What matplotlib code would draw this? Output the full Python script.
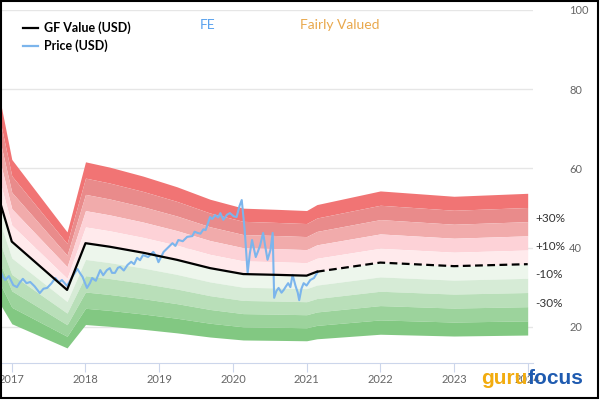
import numpy as np
import matplotlib
matplotlib.use("Agg")
import matplotlib.pyplot as plt
from matplotlib.patches import Rectangle
from matplotlib.lines import Line2D

# GF Value (USD), decimal years
gf_years = [2016.84, 2017.00, 2017.75, 2018.00, 2018.33, 2018.78, 2019.24, 2019.69,
            2020.14, 2020.60, 2021.00, 2021.14, 2022.00, 2023.00, 2024.00]
gf_values = [51.5, 41.5, 29.3, 41.1, 40.2, 38.7, 36.9, 34.8,
             33.3, 33.1, 32.9, 33.9, 36.2, 35.3, 35.8]
gf_last_actual = 2021.14

# Price (USD)
price_years = [2016.84, 2016.88, 2016.91, 2016.96, 2017.02, 2017.07, 2017.11, 2017.15,
               2017.20, 2017.25, 2017.31, 2017.38, 2017.43, 2017.48, 2017.54, 2017.59,
               2017.64, 2017.68, 2017.75, 2017.82, 2017.89, 2017.93, 2017.96, 2018.02,
               2018.06, 2018.09, 2018.14, 2018.20, 2018.24, 2018.29, 2018.33, 2018.36,
               2018.40, 2018.44, 2018.47, 2018.52, 2018.57, 2018.62, 2018.66, 2018.70,
               2018.74, 2018.78, 2018.85, 2018.92, 2018.96, 2018.99, 2019.06, 2019.12,
               2019.18, 2019.22, 2019.26, 2019.32, 2019.38, 2019.45, 2019.48, 2019.52,
               2019.56, 2019.60, 2019.63, 2019.69, 2019.72, 2019.76, 2019.80, 2019.83,
               2019.87, 2019.92, 2019.96, 2020.01, 2020.05, 2020.09, 2020.12, 2020.16,
               2020.20, 2020.23, 2020.26, 2020.31, 2020.34, 2020.37, 2020.41, 2020.44,
               2020.47, 2020.51, 2020.54, 2020.56, 2020.59, 2020.62, 2020.66, 2020.69,
               2020.72, 2020.75, 2020.78, 2020.81, 2020.85, 2020.88, 2020.90, 2020.93,
               2020.96, 2021.00, 2021.05, 2021.10, 2021.15]
price_values = [34.3, 32.6, 31.8, 32.8, 30.5, 30.0, 31.2, 32.1,
                31.0, 31.3, 30.2, 28.5, 29.6, 29.8, 31.0, 32.3,
                31.2, 31.8, 30.3, 32.6, 34.6, 33.4, 32.6, 29.8,
                31.0, 32.3, 31.6, 34.3, 33.0, 34.3, 34.8, 33.6,
                33.6, 34.9, 35.1, 34.2, 35.6, 36.4, 35.8, 37.4,
                36.8, 38.1, 37.6, 38.9, 37.8, 36.3, 38.9, 40.0,
                41.1, 40.4, 41.9, 41.6, 42.7, 42.9, 44.0, 43.7,
                43.5, 44.6, 44.4, 47.7, 47.2, 48.2, 47.6, 48.7,
                47.0, 48.3, 48.7, 47.9, 47.7, 50.5, 52.0, 44.4,
                33.6, 38.5, 41.9, 37.6, 39.0, 40.6, 43.7, 40.2,
                36.9, 39.4, 43.7, 27.3, 29.0, 29.8, 28.6, 29.3,
                30.2, 31.0, 30.0, 33.1, 30.3, 28.6, 26.7, 29.6,
                31.0, 30.4, 31.8, 32.3, 33.8]

# valuation bands (multiples of GF Value) and colours, top to bottom
band_edges = [1.5, 1.4, 1.3, 1.2, 1.1, 1.0, 0.9, 0.8, 0.7, 0.6, 0.5]
band_colors = ["#f17474", "#e98b8b", "#f1abab", "#fdd2d7", "#ffeaec",
               "#edf6ec", "#d6ebd6", "#b9dfb9", "#9cd39c", "#82c882"]
pct_labels = ["+30%", "+10%", "-10%", "-30%"]
pct_levels = [1.3, 1.1, 0.9, 0.7]

year_ticks = [2017, 2018, 2019, 2020, 2021, 2022, 2023, 2024]
value_ticks = [20, 40, 60, 80, 100]

plt.rcParams['font.family'] = ['Lato', 'DejaVu Sans']

fig = plt.figure(figsize=(6, 4.2), dpi=100)
ax = fig.add_axes([0, 1 - 363.3 / 420, 533 / 600, 353.3 / 420])

gx = np.array(gf_years)
gy = np.array(gf_values)
for i, col in enumerate(band_colors):
    ax.fill_between(gx, gy * band_edges[i + 1], gy * band_edges[i],
                    color=col, lw=0, zorder=2)

solid = gx <= gf_last_actual + 1e-9
dashed = gx >= gf_last_actual - 1e-9
ax.plot(gx[solid], gy[solid], color="black", lw=1.6, zorder=4)
ax.plot(gx[dashed], gy[dashed], color="black", lw=1.6, ls=(0, (3.5, 2)), zorder=4)
ax.plot(price_years, price_values, color="#7cb5ec", lw=1.5, zorder=3)

ax.set_xlim(2016.84, 2016.84 + 533 / 73.7)
ax.set_ylim(100 - 353.3 / 3.959, 100)

ax.set_xticks(year_ticks)
ax.set_xticklabels([str(y) for y in year_ticks])
ax.set_yticks(value_ticks)
ax.yaxis.tick_right()
ax.grid(axis='y', color="#e6e6e6", lw=1, zorder=0)
ax.set_axisbelow(True)
ax.tick_params(axis='x', colors="#ccd6eb", labelcolor="#666666", length=6.5, pad=1.5, labelsize=8)
ax.tick_params(axis='y', length=0, pad=26, labelcolor="#666666", labelsize=8)
for s in ['top', 'left', 'right']:
    ax.spines[s].set_visible(False)
ax.spines['bottom'].set_color("#ccd6eb")

for lab, lev in zip(pct_labels, pct_levels):
    ax.annotate(lab, xy=(1, gf_values[-1] * lev), xycoords=('axes fraction', 'data'),
                xytext=(1.5, 2.5), textcoords='offset points', va='center', ha='left',
                fontsize=8.5, color="#333333", annotation_clip=False)

# legend
fig.add_artist(Line2D([23 / 600, 38 / 600], [1 - 28 / 420] * 2, color="black", lw=1.6))
fig.add_artist(Line2D([23 / 600, 38 / 600], [1 - 46 / 420] * 2, color="#7cb5ec", lw=1.6))
fig.text(44 / 600, 1 - 28 / 420, "GF Value (USD)", fontsize=9, fontweight='bold',
         va='center', ha='left', color="black")
fig.text(44 / 600, 1 - 46 / 420, "Price (USD)", fontsize=9, fontweight='bold',
         va='center', ha='left', color="black")

fig.text(200 / 600, 1 - 25 / 420, "FE", fontsize=10, color="#5aa2ee", va='center', ha='left')
fig.text(300 / 600, 1 - 25 / 420, "Fairly Valued", fontsize=10, color="#e9a84c",
         va='center', ha='left')

# logo
fig.text(481 / 600, 1 - 384 / 420, "guru", fontsize=15, fontweight='bold', color="#f2ac0f",
         family=['Liberation Sans', 'DejaVu Sans'], va='baseline', ha='left')
fig.text(583 / 600, 1 - 384 / 420, "focus", fontsize=15, fontweight='bold', color="#1f5bb0",
         family=['Liberation Sans', 'DejaVu Sans'], va='baseline', ha='right')

# outer frame
fig.add_artist(Rectangle((0.5 / 600, 1 - 398 / 420), 597.5 / 600, 397.5 / 420,
                         transform=fig.transFigure, fill=False, ec="black", lw=1.5))

fig.savefig("out.png", dpi=100)
